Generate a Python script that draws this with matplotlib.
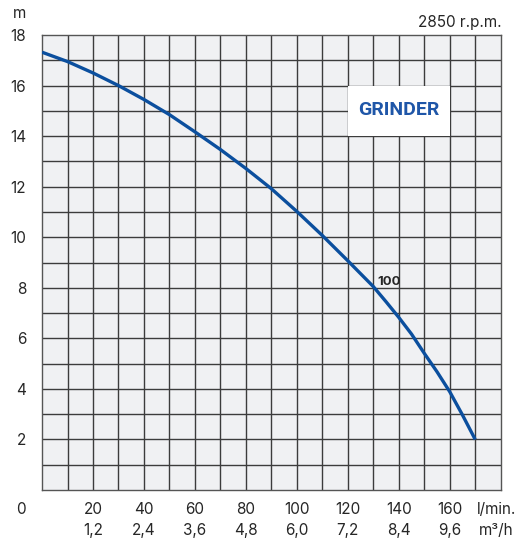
import numpy as np
from matplotlib import pyplot as plt
from matplotlib.patches import Rectangle

# pump curve, head (m) against flow (l/min)
flow = [0, 10, 20, 30, 40, 50, 60, 70, 80, 90, 100, 110, 120, 130,
        135, 140, 145, 150, 155, 160, 165, 170]
head = [17.32, 16.95, 16.5, 16.0, 15.45, 14.85, 14.17, 13.47, 12.72, 11.92,
        11.02, 10.07, 9.07, 8.05, 7.45, 6.83, 6.17, 5.41, 4.68, 3.89, 2.97, 2.0]

flow_ticks = [20, 40, 60, 80, 100, 120, 140, 160]
m3h_labels = ['1,2', '2,4', '3,6', '4,8', '6,0', '7,2', '8,4', '9,6']
head_ticks = [2, 4, 6, 8, 10, 12, 14, 16, 18]

plt.rcParams['font.family'] = ['Inter', 'DejaVu Sans']
txt = '#262626'
blue = '#0b4f9e'
fs = 11

fig = plt.figure(figsize=(5.24, 5.42), dpi=100)
ax = fig.add_axes([0.0802, 0.0959, 0.8753, 0.8395])
ax.set_facecolor('#f0f1f3')

ax.set_xlim(0, 180)
ax.set_ylim(0, 18)

# grid lines every 10 l/min and every metre
for gx in np.arange(10, 180, 10):
    ax.axvline(gx, color='#3c3c3c', lw=1.0, zorder=1)
for gy in np.arange(1, 18, 1):
    ax.axhline(gy, color='#3c3c3c', lw=1.0, zorder=1)
for s in ax.spines.values():
    s.set_color('#555555')
    s.set_linewidth(1.0)

ax.add_patch(Rectangle((120, 14), 40, 2, facecolor='white', edgecolor='none', zorder=2))
ax.text(140, 15.02, 'GRINDER', color='#1f56a8', fontsize=14, fontweight='bold',
        family=['Roboto', 'DejaVu Sans'], ha='center', va='center', zorder=3)

ax.plot(flow, head, color=blue, lw=2.4, solid_capstyle='butt', zorder=4)
ax.text(131.8, 8.22, '100', color=txt, fontsize=9.5, fontweight='bold',
        ha='left', va='center', zorder=5)

ax.set_yticks(head_ticks)
ax.set_yticklabels([str(v) for v in head_ticks])
ax.set_xticks([])
ax.tick_params(axis='y', length=0, pad=11.5, labelsize=fs, labelcolor=txt)

tr = ax.get_xaxis_transform()
for fx, m3 in zip(flow_ticks, m3h_labels):
    ax.text(fx, -0.042, str(fx), transform=tr, ha='center', va='center',
            fontsize=fs, color=txt)
    ax.text(fx, -0.088, m3, transform=tr, ha='center', va='center',
            fontsize=fs, color=txt)
ax.text(170.5, -0.042, 'l/min.', transform=tr, ha='left', va='center',
        fontsize=fs, color=txt)
ax.text(171.5, -0.088, 'm³/h', transform=tr, ha='left', va='center',
        fontsize=fs, color=txt)

fig.text(26 / 524, 1 - 509 / 542, '0', ha='right', va='center', fontsize=fs, color=txt)
fig.text(19 / 524, 1 - 13 / 542, 'm', ha='center', va='center', fontsize=fs, color=txt)
fig.text(502 / 524, 1 - 22 / 542, '2850 r.p.m.', ha='right', va='center',
         fontsize=fs, color=txt)

fig.savefig('out.png', dpi=100)
